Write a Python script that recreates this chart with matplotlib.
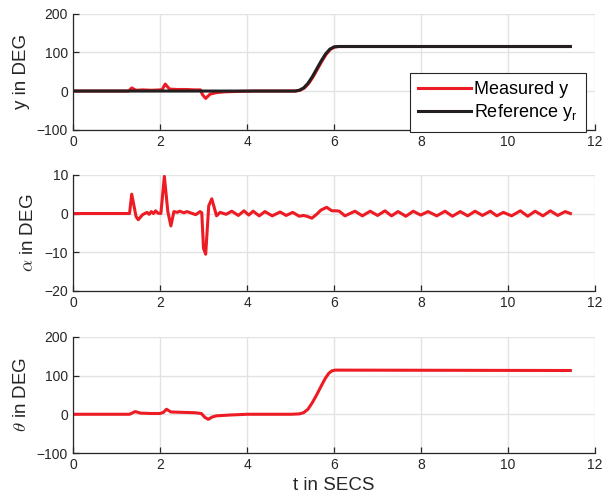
import matplotlib
matplotlib.use("Agg")
from matplotlib import pyplot as plt
import numpy as np

plt.rcParams['font.family'] = ['Liberation Sans', 'DejaVu Sans']
plt.rcParams['mathtext.fontset'] = 'cm'

# output y (reference and measured), deg
t_ref = [0, 5.10, 5.20, 5.30, 5.40, 5.50, 5.60, 5.70, 5.80, 5.90, 6.00, 6.10, 11.43]
y_ref = [0, 0, 2, 8, 20, 37, 57, 77, 95, 108, 114, 115, 115]

t_meas = [0, 1.28, 1.35, 1.45, 1.60, 1.80, 2.00, 2.05, 2.12, 2.22, 2.40, 2.60, 2.80, 2.93,
          2.98, 3.05, 3.15, 3.30, 3.50, 3.80, 4.20, 5.12, 5.22, 5.32, 5.42, 5.52, 5.62,
          5.72, 5.82, 5.92, 6.02, 6.12, 11.43]
y_meas = [0, 0, 8, 2, 3, 2, 3, 4, 18, 5, 4, 4, 3, 3,
          -10, -19, -8, -4, -2, -1, 0, 0, 2, 8, 20, 37, 57,
          77, 95, 108, 114, 115, 115]

# angle alpha, deg
t_alpha = [0, 1.30, 1.35, 1.45, 1.50, 1.60, 1.70, 1.75, 1.80, 1.85, 1.90, 1.95, 2.02, 2.10,
           2.18, 2.25, 2.32, 2.40, 2.45, 2.55, 2.62, 2.72, 2.82, 2.92, 2.96, 3.00, 3.05,
           3.12, 3.19, 3.30, 3.38, 3.52, 3.65, 3.80, 3.93, 4.04, 4.14, 4.28, 4.41, 4.58,
           4.76, 4.90, 5.05, 5.20, 5.30, 5.40, 5.49, 5.60, 5.70, 5.83, 5.95, 6.05, 6.12,
           6.25, 6.48, 6.65, 6.83, 7.00, 7.17, 7.32, 7.47, 7.65, 7.82, 7.99, 8.16, 8.36,
           8.55, 8.72, 8.90, 9.07, 9.24, 9.41, 9.59, 9.74, 9.89, 10.08, 10.28, 10.45,
           10.62, 10.80, 10.97, 11.14, 11.31, 11.43]
alpha_deg = [0, 0, 5.0, -0.8, -1.6, -0.3, 0.3, -0.2, 0.5, 0.0, 0.7, 0.1, 0.0, 9.6,
             0.5, -3.2, 0.5, 0.3, 0.6, 0.2, 0.5, 0.1, -0.3, 0.5, 0.2, -9.0, -10.5,
             2.0, 3.8, -0.6, 0.3, -0.2, 0.6, -0.5, 0.7, -0.4, 0.6, -0.6, 0.5, -0.6,
             0.4, -0.5, 0.3, -0.7, -0.5, -0.8, -1.2, -0.2, 0.9, 1.6, 0.7, 0.7, 0.6,
             -0.6, 0.6, -0.6, 0.6, -0.5, 0.7, -0.6, 0.5, -0.7, 0.6, -0.4, 0.5, -0.6,
             0.6, -0.7, 0.5, -0.6, 0.6, -0.5, 0.6, -0.6, 0.3, -0.6, 0.7, -0.7,
             0.6, -0.6, 0.7, -0.5, 0.5, 0.0]

# angle theta, deg
t_theta = [0, 1.30, 1.43, 1.55, 1.80, 2.00, 2.08, 2.15, 2.25, 2.50, 2.80, 2.95, 3.03, 3.11,
           3.20, 3.30, 3.60, 4.00, 5.00, 5.20, 5.30, 5.40, 5.50, 5.60, 5.70, 5.80, 5.88,
           5.95, 6.02, 6.10, 11.43]
theta_deg = [0, 0, 7, 3, 2, 2, 5, 13, 6, 5, 4, 2, -8, -13,
             -7, -4, -2, 0, 0, 1, 4, 13, 30, 50, 72, 93, 106,
             112, 114, 114, 113]

red = '#ed1c24'
dark = '#262626'
grid_c = '#e3e3e3'


def style_ax(ax, ylim, yticks, ylabel):
    ax.set_xlim(0, 12)
    ax.set_ylim(*ylim)
    ax.set_xticks(range(0, 13, 2))
    ax.set_yticks(yticks)
    ax.grid(True, color=grid_c, linewidth=1.0)
    ax.set_axisbelow(True)
    for s in ['top', 'right']:
        ax.spines[s].set_visible(False)
    for s in ['left', 'bottom']:
        ax.spines[s].set_color(dark)
        ax.spines[s].set_linewidth(0.9)
    ax.tick_params(direction='in', length=4, width=0.9, colors=dark,
                   labelsize=10, labelcolor=dark)
    ax.set_ylabel(ylabel, fontsize=13.5, color=dark, labelpad=5)


fig = plt.figure(figsize=(6.03, 5.03), dpi=100)
ax1 = fig.add_axes([0.121, 0.742, 0.866, 0.231])
ax2 = fig.add_axes([0.121, 0.4215, 0.866, 0.231])
ax3 = fig.add_axes([0.121, 0.0994, 0.866, 0.231])

ax1.plot(t_meas, y_meas, color=red, linewidth=2.2, label='Measured y')
ax1.plot(t_ref, y_ref, color='#231f20', linewidth=2.2, label='Reference y$_\\mathregular{r}$')
style_ax(ax1, (-100, 200), [-100, 0, 100, 200], 'y in DEG')
lg = ax1.legend(loc='upper left', bbox_to_anchor=(0.646, 0.49), fontsize=13,
                frameon=True, fancybox=False, framealpha=1, edgecolor=dark,
                handlelength=2.9, handletextpad=0.2, borderpad=0.45,
                labelspacing=0.25, borderaxespad=0)
lg.get_frame().set_linewidth(0.8)

ax2.plot(t_alpha, alpha_deg, color=red, linewidth=2.2)
style_ax(ax2, (-20, 10), [-20, -10, 0, 10], r'$\alpha$ in DEG')

ax3.plot(t_theta, theta_deg, color=red, linewidth=2.2)
style_ax(ax3, (-100, 200), [-100, 0, 100, 200], r'$\theta$ in DEG')
ax3.set_xlabel('t in SECS', fontsize=13.5, color=dark, labelpad=4)

fig.savefig('out.png', dpi=100)
